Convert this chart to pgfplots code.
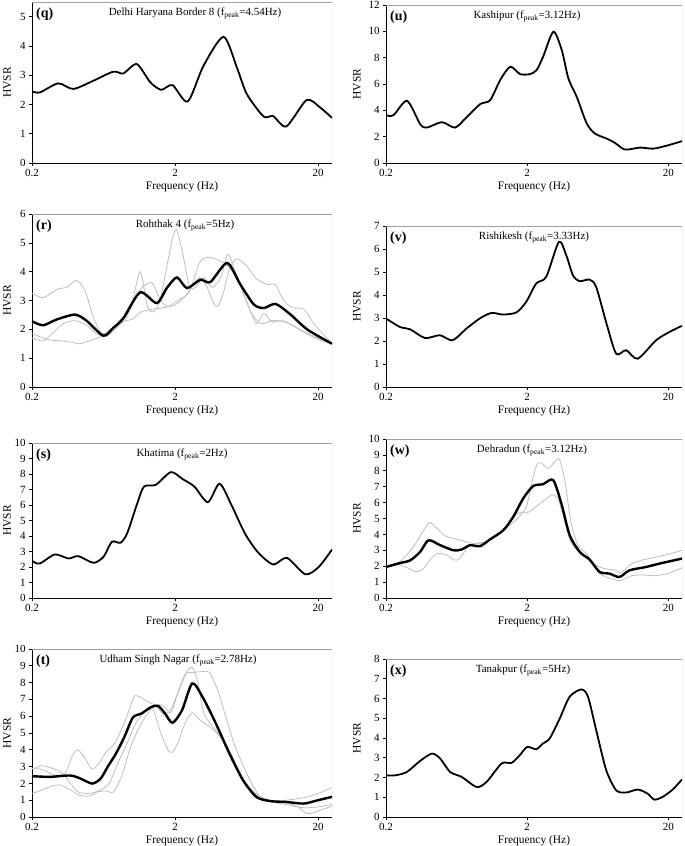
\documentclass[border=0pt]{standalone}
\usepackage{fontspec}
\setmainfont{Liberation Serif}
\usepackage{pgfplots}
\pgfplotsset{compat=1.18}

\definecolor{framegray}{RGB}{160,160,160}
\definecolor{trialgray}{RGB}{190,190,190}

\pgfplotsset{
  every axis/.append style={
    scale only axis,
    xmode=log, xmin=0.2, xmax=25, ymin=0,
    xtick={0.2,2,20}, xticklabels={0.2,2,20}, xminorticks=false,
    yticklabel={\pgfmathprintnumber[assume math mode=true]{\tick}},
    axis lines*=left, axis line style={black, line width=0.8bp},
    tick align=outside, major tick length=3bp, tick style={black, line width=0.6bp},
    tick label style={font=\fontsize{11}{12}\selectfont},
    label style={font=\fontsize{11.5}{13}\selectfont},
    xlabel={Frequency (Hz)}, ylabel={HVSR},
    xlabel style={at={(axis description cs:0.5,0)}, anchor=center, yshift=-24bp},
  },
}
% panel letter, title and the grey top/right border of the plot area
\newcommand{\plabel}[1]{%
  \draw[framegray, line width=0.7bp] (rel axis cs:0,1) -- (rel axis cs:1,1) -- (rel axis cs:1,0);
  \node[anchor=north west, inner sep=0pt, xshift=4bp, yshift=-6bp,
  font=\fontsize{14}{16}\selectfont\bfseries] at (rel axis cs:0,1) {(#1)};}
\newcommand{\ptitle}[2]{\node[anchor=north, inner sep=0pt, xshift=#1, yshift=-6bp,
  font=\fontsize{11}{13}\selectfont] at (rel axis cs:0.5,1) {#2};}

\begin{document}
\begin{tikzpicture}
\path[use as bounding box] (0,0) rectangle (685bp,846bp);

% (q) Delhi Haryana Border 8
\begin{axis}[anchor=south west, at={(32bp,683bp)}, width=300bp, height=161bp,
  ylabel style={at={(axis description cs:-0.083,0.5)}, anchor=center},
  ymax=5.5, ytick={0,1,...,5}]
\addplot[black, line width=1.8bp, smooth, tension=0.45] coordinates {(0.2,2.45)(0.227,2.41)(0.305,2.72)(0.389,2.53)(0.537,2.81)
 (0.74,3.12)(0.87,3.06)(1.08,3.38)(1.34,2.76)(1.6,2.5)(1.92,2.66)(2.45,2.1)(3.16,3.32)
 (4.36,4.31)(5.4,3.27)(6.34,2.36)(8.3,1.59)(9.7,1.6)(12,1.25)(16.6,2.15)(20.6,1.9)(25,1.54)};
\plabel{q}
\ptitle{13bp}{Delhi Haryana Border 8 (f\textsubscript{peak}=4.54Hz)}
\end{axis}

% (u) Kashipur
\begin{axis}[anchor=south west, at={(386bp,683bp)}, width=296bp, height=158bp,
  ylabel style={at={(axis description cs:-0.098,0.5)}, anchor=center},
  ymax=12, ytick={0,2,...,12}]
\addplot[black, line width=1.8bp, smooth, tension=0.45] coordinates {(0.2,3.63)(0.226,3.63)(0.282,4.72)(0.350,2.94)(0.390,2.69)
 (0.498,3.1)(0.618,2.69)(0.748,3.5)(0.929,4.47)(1.094,4.77)(1.288,6.3)(1.517,7.31)(1.783,6.75)
 (2.094,6.75)(2.334,7.06)(2.594,8.07)(3.069,9.97)(3.516,8.58)(3.918,6.42)(4.488,5.03)
 (5.285,3.0)(6.054,2.23)(7.329,1.85)(8.395,1.52)(9.863,1.02)(12.62,1.17)(15.66,1.09)
 (20,1.35)(25,1.66)};
\plabel{u}
\ptitle{-7bp}{Kashipur (f\textsubscript{peak}=3.12Hz)}
\end{axis}

% (r) Rohthak 4
\begin{axis}[anchor=south west, at={(32bp,459bp)}, width=300bp, height=173bp,
  ylabel style={at={(axis description cs:-0.083,0.5)}, anchor=center},
  ymax=6, ytick={0,1,...,6}]
\addplot[trialgray, line width=0.8bp, smooth, tension=0.45] coordinates {(0.2,3.25)(0.240,3.1)(0.303,3.4)(0.348,3.45)(0.408,3.7)(0.469,3.35)
 (0.538,2.4)(0.618,1.85)(0.726,2.05)(0.873,2.4)(1.0,2.9)(1.14,4.0)(1.28,2.8)(1.40,2.6)(1.55,2.9)(1.664,3.6)
 (1.910,5.1)(2.047,5.45)(2.244,4.7)(2.518,3.5)(2.761,3.45)(3.170,3.8)(3.639,3.45)(4.178,3.8)
 (4.688,4.6)(5.261,4.0)(6.040,3.2)(6.776,2.6)(7.430,2.2)(8.337,2.55)(9.572,2.25)(11.25,2.3)
 (14.16,2.05)(17.83,1.8)(25,1.5)};
\addplot[trialgray, line width=0.8bp, smooth, tension=0.45] coordinates {(0.2,1.85)(0.240,1.7)(0.276,1.62)(0.317,1.6)(0.381,1.55)(0.428,1.5)
 (0.502,1.6)(0.604,1.75)(0.726,2.0)(0.834,2.25)(1.002,2.35)(1.151,2.6)(1.416,2.7)(1.664,2.75)
 (2.0,2.85)(2.350,3.15)(2.636,3.5)(2.958,3.8)(3.319,3.5)(3.724,2.9)(3.990,2.8)(4.375,3.3)
 (4.797,4.1)(5.383,4.45)(6.325,4.2)(7.430,3.75)(8.934,3.55)(10.02,3.55)(11.51,3.0)(13.21,2.75)
 (15.89,2.7)(18.67,2.2)(25,1.5)};
\addplot[trialgray, line width=0.8bp, smooth, tension=0.45] coordinates {(0.2,1.7)(0.240,1.6)(0.283,1.9)(0.332,2.2)(0.399,2.3)(0.480,2.15)
 (0.564,1.85)(0.662,1.75)(0.796,2.1)(0.914,2.4)(1.050,3.1)(1.205,3.5)(1.384,3.6)(1.589,3.0)
 (1.783,2.8)(2.094,3.0)(2.518,3.3)(2.958,4.3)(3.396,4.5)(3.990,4.4)(4.688,4.2)(5.636,3.6)
 (6.776,2.6)(7.962,2.2)(9.354,2.3)(10.50,2.3)(12.62,2.2)(15.89,1.9)(20,1.65)(25,1.5)};
\addplot[black, line width=2.4bp, smooth, tension=0.45] coordinates {(0.2,2.28)(0.239,2.14)(0.297,2.34)(0.399,2.51)(0.481,2.3)
 (0.630,1.78)(0.740,2.05)(0.871,2.39)(1.140,3.28)(1.489,2.91)(1.750,3.43)(2.061,3.8)(2.421,3.43)
 (3.006,3.72)(3.532,3.64)(4.624,4.3)(5.728,3.55)(7.112,2.86)(8.356,2.74)(10.09,2.88)(12.85,2.51)
 (16.83,1.99)(25,1.5)};
\plabel{r}
\ptitle{3bp}{Rohthak 4 (f\textsubscript{peak}=5Hz)}
\end{axis}

% (v) Rishikesh
\begin{axis}[anchor=south west, at={(386bp,459bp)}, width=296bp, height=161bp,
  ylabel style={at={(axis description cs:-0.098,0.5)}, anchor=center},
  ymax=7, ytick={0,1,...,7}]
\addplot[black, line width=1.8bp, smooth, tension=0.45] coordinates {(0.2,2.98)(0.251,2.61)(0.296,2.51)(0.378,2.13)(0.482,2.25)
 (0.592,2.03)(0.743,2.54)(0.923,2.98)(1.117,3.22)(1.349,3.15)(1.675,3.24)(1.968,3.7)(2.318,4.5)
 (2.729,4.79)(3.357,6.31)(3.784,5.73)(4.217,4.86)(4.699,4.6)(5.534,4.67)(6.166,4.35)(7.244,2.83)
 (8.531,1.45)(10.05,1.6)(12.13,1.23)(16.37,2.03)(20.32,2.39)(25,2.66)};
\plabel{v}
\ptitle{0bp}{Rishikesh (f\textsubscript{peak}=3.33Hz)}
\end{axis}

% (s) Khatima
\begin{axis}[anchor=south west, at={(32bp,248bp)}, width=300bp, height=155bp,
  ylabel style={at={(axis description cs:-0.083,0.5)}, anchor=center},
  ymax=10, ytick={0,1,...,10}]
\addplot[black, line width=1.8bp, smooth, tension=0.45] coordinates {(0.2,2.4)(0.226,2.22)(0.289,2.81)(0.359,2.55)(0.422,2.7)
 (0.538,2.27)(0.632,2.66)(0.724,3.63)(0.830,3.56)(0.925,4.17)(1.089,6.11)(1.213,7.19)(1.466,7.3)
 (1.871,8.12)(2.260,7.67)(2.729,7.19)(3.388,6.18)(4.093,7.37)(4.955,6.0)(6.152,4.17)(7.638,2.92)
 (9.727,2.16)(12.08,2.59)(16.29,1.53)(20.23,2.01)(25,3.13)};
\plabel{s}
\ptitle{0bp}{Khatima (f\textsubscript{peak}=2Hz)}
\end{axis}

% (w) Dehradun
\begin{axis}[anchor=south west, at={(386bp,248bp)}, width=296bp, height=159bp,
  ylabel style={at={(axis description cs:-0.098,0.5)}, anchor=center},
  ymax=10, ytick={0,1,...,10}]
\addplot[trialgray, line width=0.8bp, smooth, tension=0.45] coordinates {(0.2,2.0)(0.252,2.3)(0.317,3.3)(0.372,4.3)(0.408,4.75)(0.458,4.4)
 (0.526,3.9)(0.632,3.7)(0.760,3.5)(0.873,3.4)(1.002,3.5)(1.205,3.9)(1.416,4.4)(1.664,4.9)
 (1.867,5.4)(2.0,5.9)(2.193,7.5)(2.350,8.4)(2.518,8.5)(2.825,8.15)(3.170,8.6)(3.396,8.7)
 (3.724,7.2)(4.083,4.8)(4.581,3.3)(5.261,2.8)(6.040,2.1)(7.096,1.85)(8.337,1.75)(9.354,1.6)
 (10.74,2.1)(12.62,2.35)(15.89,2.55)(20,2.75)(25,3.0)};
\addplot[trialgray, line width=0.8bp, smooth, tension=0.45] coordinates {(0.2,1.95)(0.240,2.1)(0.283,1.9)(0.324,1.65)(0.364,1.8)(0.418,2.5)
 (0.469,2.8)(0.538,2.7)(0.604,2.4)(0.662,2.45)(0.760,3.2)(0.873,3.45)(1.002,3.5)(1.205,3.9)
 (1.416,4.5)(1.626,5.2)(1.824,5.4)(2.0,5.35)(2.350,5.8)(2.698,6.2)(3.027,6.5)(3.319,6.2)
 (3.639,5.0)(4.083,3.5)(4.688,2.9)(5.636,2.3)(6.622,1.5)(7.604,1.25)(9.142,1.1)(10.99,1.4)
 (13.21,1.45)(15.89,1.4)(20,1.55)(25,1.9)};
\addplot[black, line width=2.4bp, smooth, tension=0.45] coordinates {(0.2,1.95)(0.252,2.2)(0.297,2.37)(0.349,2.9)(0.4,3.63)(0.484,3.32)
 (0.601,3.0)(0.687,3.05)(0.787,3.32)(0.927,3.26)(1.089,3.68)(1.355,4.26)(1.592,5.1)(1.875,6.26)
 (2.204,7.04)(2.594,7.16)(3.055,7.42)(3.492,5.95)(4.0,3.95)(4.710,2.9)(5.534,2.42)(6.516,1.64)
 (7.674,1.53)(9.016,1.32)(10.62,1.74)(13.90,1.95)(17.26,2.16)(25,2.48)};
\plabel{w}
\ptitle{-2bp}{Dehradun (f\textsubscript{peak}=3.12Hz)}
\end{axis}

% (t) Udham Singh Nagar
\begin{axis}[anchor=south west, at={(32bp,29bp)}, width=300bp, height=168bp,
  ylabel style={at={(axis description cs:-0.083,0.5)}, anchor=center},
  ymax=10, ytick={0,1,...,10}]
\addplot[trialgray, line width=0.8bp, smooth, tension=0.45] coordinates {(0.2,2.9)(0.240,2.8)(0.283,2.5)(0.340,2.6)(0.381,3.6)(0.418,4.0)
 (0.469,3.5)(0.526,2.85)(0.590,3.2)(0.662,3.9)(0.760,4.4)(0.893,5.7)(1.026,7.1)(1.099,7.2)
 (1.262,6.9)(1.483,6.6)(1.664,6.1)(1.867,6.4)(2.094,7.4)(2.404,8.6)(2.636,8.9)(2.891,8.0)
 (3.170,6.2)(3.639,5.4)(4.178,4.8)(5.024,3.6)(6.040,2.2)(7.096,1.4)(8.337,1.0)(10.02,0.85)
 (12.62,0.7)(15.89,0.55)(20,0.6)(25,0.75)};
\addplot[trialgray, line width=0.8bp, smooth, tension=0.45] coordinates {(0.2,2.85)(0.235,3.05)(0.276,2.9)(0.317,2.7)(0.364,2.1)(0.418,1.5)
 (0.502,1.4)(0.604,1.6)(0.693,2.0)(0.796,3.2)(0.914,4.3)(1.050,5.5)(1.205,6.2)(1.384,6.5)
 (1.589,5.0)(1.783,4.0)(1.910,3.85)(2.094,4.4)(2.350,5.6)(2.636,6.2)(2.958,5.8)(3.319,5.5)
 (3.811,5.1)(4.375,4.5)(5.024,3.6)(6.040,2.2)(7.096,1.5)(7.962,1.2)(9.572,0.95)(12.05,0.85)
 (14.49,0.6)(15.89,0.3)(17.42,0.2)(20,0.35)(25,0.65)};
\addplot[trialgray, line width=0.8bp, smooth, tension=0.45] coordinates {(0.2,1.4)(0.235,1.6)(0.276,1.85)(0.317,1.9)(0.372,1.6)(0.428,1.3)
 (0.502,1.25)(0.577,1.5)(0.662,1.55)(0.743,1.5)(0.853,2.5)(0.980,4.2)(1.151,5.5)(1.321,6.3)
 (1.483,6.7)(1.664,6.6)(1.867,6.2)(2.094,7.4)(2.350,8.5)(2.636,8.6)(3.027,8.65)(3.476,8.6)
 (3.990,7.5)(4.581,5.8)(5.261,4.2)(6.325,2.6)(7.430,1.5)(8.337,1.05)(10.50,0.95)(13.21,1.05)
 (15.89,1.15)(20,1.4)(25,1.75)};
\addplot[black, line width=2.4bp, smooth, tension=0.45] coordinates {(0.2,2.43)(0.267,2.39)(0.370,2.47)(0.436,2.29)(0.527,1.99)
 (0.604,2.29)(0.675,2.98)(0.773,3.78)(0.885,4.77)(1.014,5.92)(1.164,6.16)(1.371,6.56)(1.528,6.6)
 (1.702,6.16)(1.919,5.61)(2.238,6.36)(2.636,7.95)(3.105,7.16)(3.855,5.57)(4.797,3.78)(5.970,2.19)
 (7.413,1.19)(9.226,0.95)(12.11,0.89)(15.89,0.8)(19.77,0.99)(25,1.2)};
\plabel{t}
\ptitle{-4bp}{Udham Singh Nagar (f\textsubscript{peak}=2.78Hz)}
\end{axis}

% (x) Tanakpur
\begin{axis}[anchor=south west, at={(386bp,29bp)}, width=296bp, height=158bp,
  ylabel style={at={(axis description cs:-0.098,0.5)}, anchor=center},
  ymax=8, ytick={0,1,...,8}]
\addplot[black, line width=1.8bp, smooth, tension=0.45] coordinates {(0.2,2.11)(0.233,2.11)(0.281,2.28)(0.349,2.84)(0.423,3.21)
 (0.484,2.96)(0.569,2.28)(0.687,2.03)(0.877,1.52)(1.033,1.78)(1.318,2.71)(1.549,2.74)(1.774,3.13)
 (2.0,3.55)(2.318,3.43)(2.582,3.72)(2.891,3.98)(3.404,4.99)(4.0,6.09)(4.842,6.46)(5.395,6.09)
 (6.166,4.4)(7.262,2.37)(8.551,1.35)(10.05,1.24)(12.16,1.39)(14.29,1.18)(15.92,0.88)(18.24,1.02)
 (21.48,1.39)(25,1.9)};
\plabel{x}
\ptitle{-11bp}{Tanakpur (f\textsubscript{peak}=5Hz)}
\end{axis}
\end{tikzpicture}
\end{document}
